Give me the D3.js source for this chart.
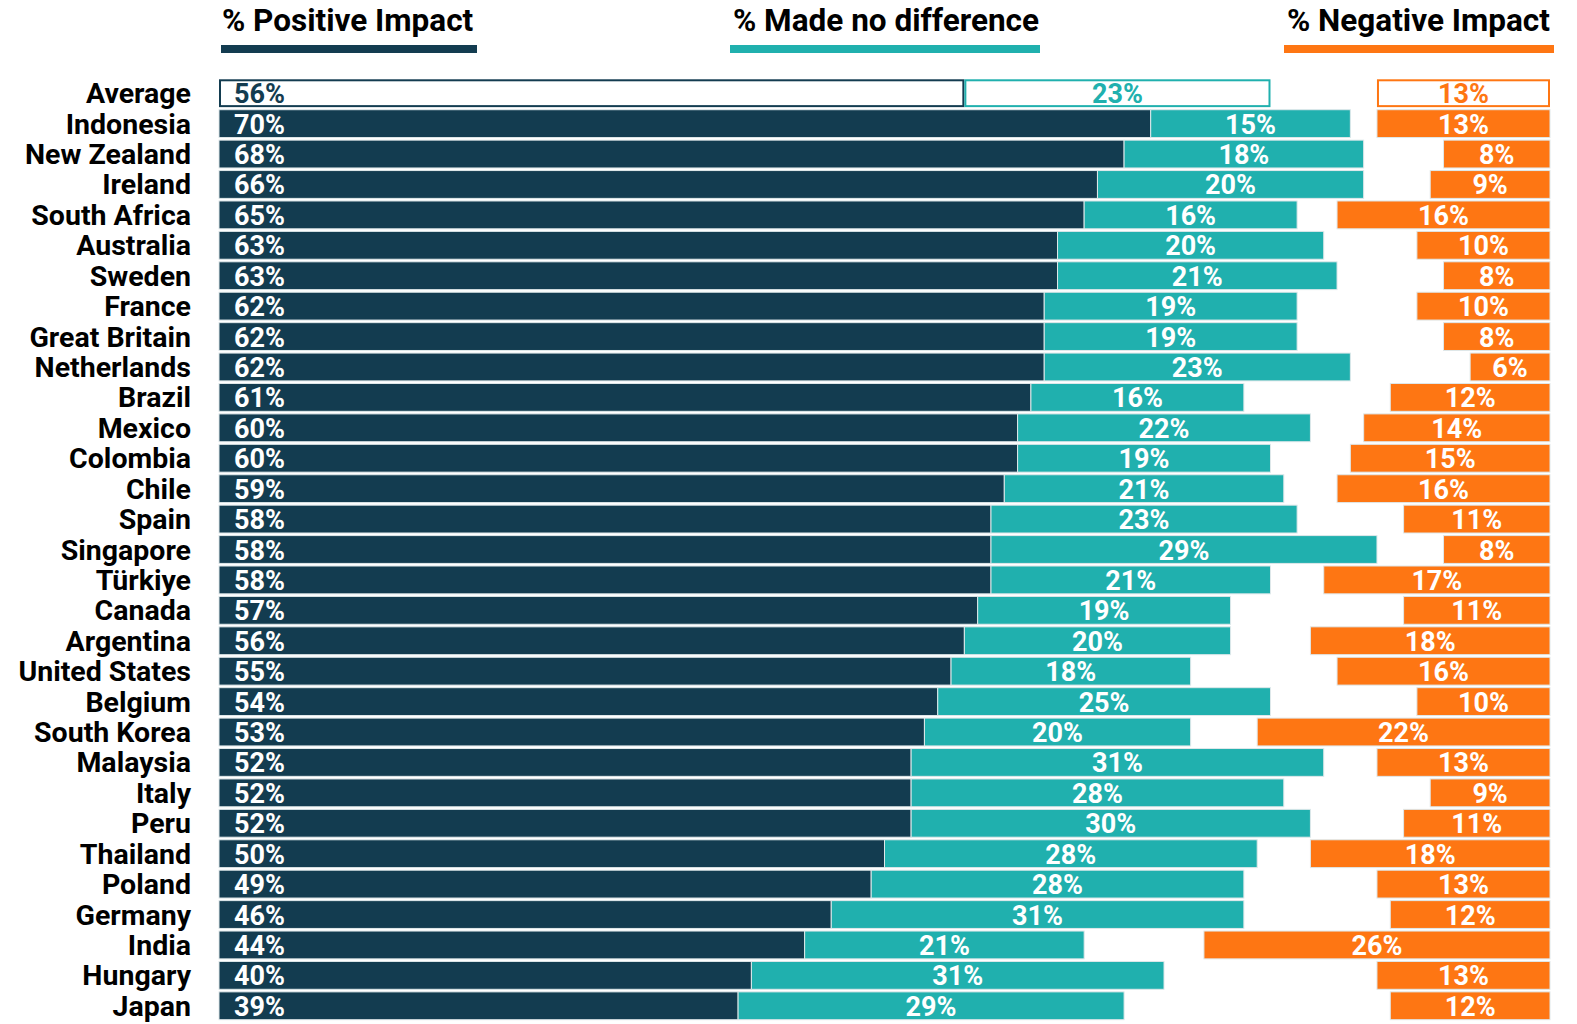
<!DOCTYPE html>
<html>
<head>
<meta charset="utf-8">
<script src="https://cdn.jsdelivr.net/npm/d3@7"></script>
<style>
  html, body { margin: 0; padding: 0; background: #ffffff; }
  svg { display: block; }
  text { font-family: Roboto, "Noto Sans", sans-serif; font-weight: 700; }
</style>
</head>
<body>
<svg id="chart" width="1577" height="1024"></svg>
<script>
// Share of respondents by reported impact, per country (%)
const countries = ["Average", "Indonesia", "New Zealand", "Ireland", "South Africa", "Australia",
  "Sweden", "France", "Great Britain", "Netherlands", "Brazil", "Mexico", "Colombia", "Chile",
  "Spain", "Singapore", "Türkiye", "Canada", "Argentina", "United States", "Belgium",
  "South Korea", "Malaysia", "Italy", "Peru", "Thailand", "Poland", "Germany", "India",
  "Hungary", "Japan"];
const positive = [56, 70, 68, 66, 65, 63, 63, 62, 62, 62, 61, 60, 60, 59, 58, 58, 58, 57, 56, 55,
  54, 53, 52, 52, 52, 50, 49, 46, 44, 40, 39];
const noDifference = [23, 15, 18, 20, 16, 20, 21, 19, 19, 23, 16, 22, 19, 21, 23, 29, 21, 19, 20, 18,
  25, 20, 31, 28, 30, 28, 28, 31, 21, 31, 29];
const negative = [13, 13, 8, 9, 16, 10, 8, 10, 8, 6, 12, 14, 15, 16, 11, 8, 17, 11, 18, 16,
  10, 22, 13, 9, 11, 18, 13, 12, 26, 13, 12];
const seriesNames = ["% Positive Impact", "% Made no difference", "% Negative Impact"];

const colors = { pos: "#133c50", neu: "#20b0ae", neg: "#fe7613" };

const svg = d3.select("#chart");

const x = d3.scaleLinear().domain([0, 100]).range([219, 1550]);
const y = d3.scaleBand().domain(countries).range([78, 1021]).paddingInner(0.085).paddingOuter(0.0425);

const rows = countries.map((c, i) => ({
  name: c, pos: positive[i], neu: noDifference[i], neg: negative[i], avg: i === 0
}));

// Country labels
svg.append("g").selectAll("text").data(rows).join("text")
  .attr("x", 191)
  .attr("y", d => y(d.name) + y.bandwidth() / 2 + 10)
  .attr("text-anchor", "end")
  .attr("font-size", 28.5)
  .attr("fill", "#000")
  .text(d => d.name);

// Segments: positive from 0, no-difference stacked after it, negative aligned to 100
const segs = [];
rows.forEach(d => {
  segs.push({ row: d, key: "pos", x0: 0, x1: d.pos, v: d.pos });
  segs.push({ row: d, key: "neu", x0: d.pos, x1: d.pos + d.neu, v: d.neu });
  segs.push({ row: d, key: "neg", x0: 100 - d.neg, x1: 100, v: d.neg });
});

const bars = svg.append("g");
bars.selectAll("rect").data(segs).join("rect")
  .attr("x", d => x(d.x0) + (d.row.avg ? 1 : 0))
  .attr("y", d => y(d.row.name) + (d.row.avg ? 1 : 0))
  .attr("width", d => x(d.x1) - x(d.x0) - (d.row.avg ? 2 : 0))
  .attr("height", d => y.bandwidth() - (d.row.avg ? 2 : 0))
  .attr("fill", d => d.row.avg ? "#ffffff" : colors[d.key])
  .attr("stroke", d => d.row.avg ? colors[d.key] : "#dfe8ea")
  .attr("stroke-width", d => d.row.avg ? 2 : 1);

// Value labels
bars.selectAll("text").data(segs).join("text")
  .attr("x", d => d.key === "pos" ? x(0) + 15 : (x(d.x0) + x(d.x1)) / 2)
  .attr("y", d => y(d.row.name) + y.bandwidth() / 2 + 10)
  .attr("text-anchor", d => d.key === "pos" ? "start" : "middle")
  .attr("font-size", 27)
  .attr("fill", d => d.row.avg ? colors[d.key] : "#ffffff")
  .text(d => d.v + "%");

// Column headers with coloured rules
const headers = [
  { text: seriesNames[0], x: 222, x0: 221, x1: 477, color: colors.pos },
  { text: seriesNames[1], x: 733, x0: 730, x1: 1040, color: colors.neu },
  { text: seriesNames[2], x: 1287, x0: 1284, x1: 1554, color: colors.neg }
];
const hg = svg.append("g").selectAll("g").data(headers).join("g");
hg.append("text")
  .attr("x", d => d.x).attr("y", 31)
  .attr("font-size", 31.5)
  .attr("fill", "#000")
  .text(d => d.text);
hg.append("rect")
  .attr("x", d => d.x0).attr("y", 45)
  .attr("width", d => d.x1 - d.x0).attr("height", 8)
  .attr("fill", d => d.color);
</script>
</body>
</html>
